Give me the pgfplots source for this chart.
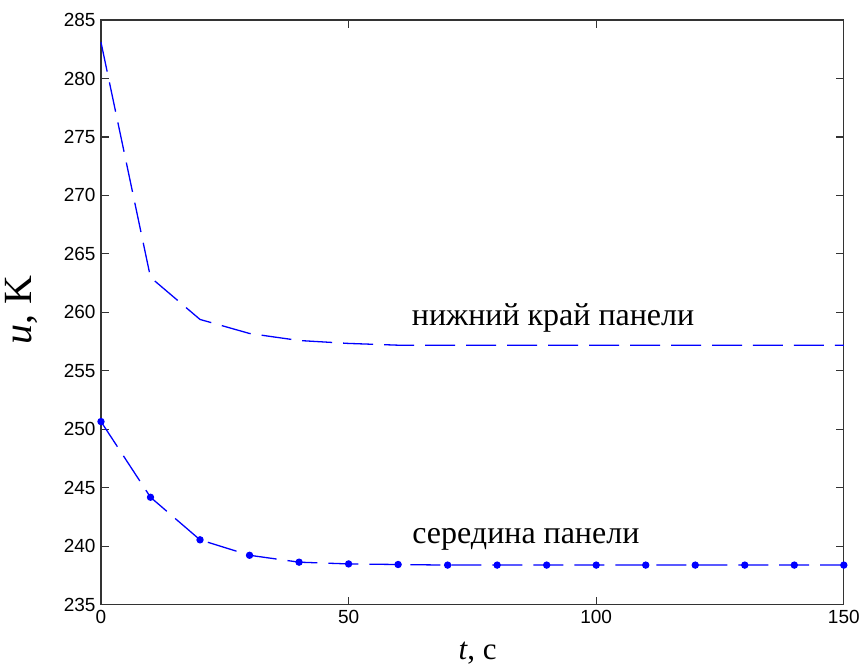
\documentclass[border=0pt]{standalone}
\usepackage{fontspec}
\setmainfont{Liberation Serif}
\newfontfamily\sansfont{Liberation Sans}
\usepackage{pgfplots}
\pgfplotsset{compat=1.18}

\definecolor{mblue}{RGB}{0,0,255}

\begin{document}
\begin{tikzpicture}
\begin{axis}[
  at={(0,0)}, anchor=south west,
  width=743pt, height=585pt, scale only axis,
  xmin=0, xmax=150, ymin=235, ymax=285,
  xtick={0,50,100,150},
  ytick={235,240,...,285},
  tick align=inside, major tick length=8pt,
  axis line style={black!80, line width=1.2pt},
  tick style={black!80, line width=1.1pt},
  /pgf/number format/assume math mode=true,
  ticklabel style={font=\sansfont\fontsize{19}{19}\selectfont},
  xticklabel style={yshift=-2pt},
  yticklabel style={xshift=-2pt},
  xlabel={\fontsize{31}{31}\selectfont\textit{t}, c},
  ylabel={\fontsize{40}{40}\selectfont\textit{u}, K},
  xlabel style={at={(axis description cs:0.507,-0.082)}, anchor=center},
  ylabel style={at={(axis description cs:-0.107,0.504)}, anchor=center, rotate=0},
  clip=false,
]
% нижний край панели
\addplot[mblue, line width=1.3pt, dash pattern=on 30pt off 11pt] coordinates {
  (0,283.1) (10,263.0) (20,259.4) (30,258.2) (40,257.6) (50,257.35) (60,257.2)
  (70,257.2) (80,257.2) (90,257.2) (100,257.2) (110,257.2) (120,257.2)
  (130,257.2) (140,257.2) (150,257.2)
};
% середина панели
\addplot[mblue, line width=1.3pt, dash pattern=on 30pt off 11pt,
  mark=*, mark size=3pt, mark options={solid, fill=mblue}] coordinates {
  (0,250.67) (10,244.2) (20,240.56) (30,239.24) (40,238.65) (50,238.5)
  (60,238.45) (70,238.4) (80,238.4) (90,238.4) (100,238.4) (110,238.4)
  (120,238.4) (130,238.4) (140,238.4) (150,238.4)
};
\node[font=\fontsize{32}{32}\selectfont] at (axis cs:91.3,259.5) {нижний край панели};
\node[font=\fontsize{32}{32}\selectfont] at (axis cs:85.8,240.56) {середина панели};
\end{axis}
\path[use as bounding box] (-101pt,-67pt) rectangle (762pt,605pt);
\end{tikzpicture}
\end{document}
